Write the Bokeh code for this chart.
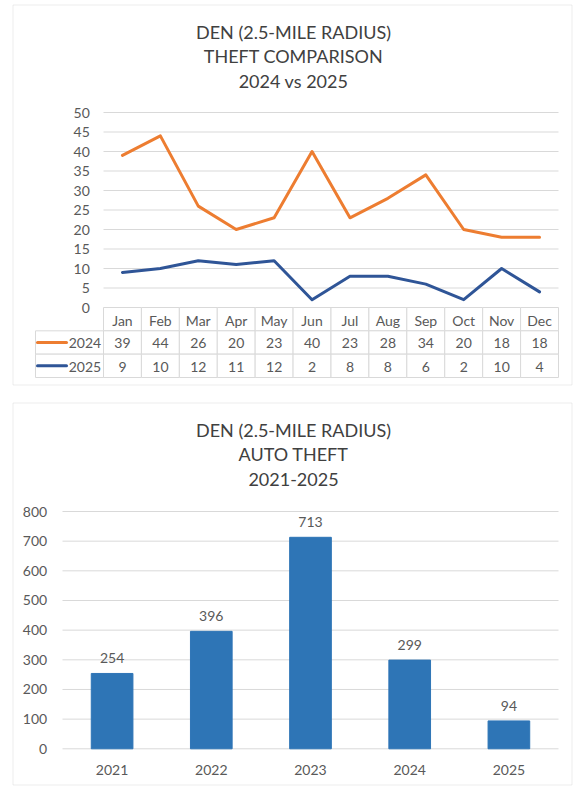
from bokeh.plotting import figure
from bokeh.models import Range1d, FixedTicker, BoxAnnotation
from bokeh.layouts import column
from bokeh.embed import file_html
from bokeh.resources import INLINE
from bokeh.core.properties import value

# ---------------- data ----------------
months = ["Jan", "Feb", "Mar", "Apr", "May", "Jun", "Jul", "Aug", "Sep", "Oct", "Nov", "Dec"]
theft_2024 = [39, 44, 26, 20, 23, 40, 23, 28, 34, 20, 18, 18]
theft_2025 = [9, 10, 12, 11, 12, 2, 8, 8, 6, 2, 10, 4]
series_names = ["2024", "2025"]
top_title = ["DEN (2.5-MILE RADIUS)", "THEFT COMPARISON", "2024 vs 2025"]
top_ticks = [0, 5, 10, 15, 20, 25, 30, 35, 40, 45, 50]

years = ["2021", "2022", "2023", "2024", "2025"]
auto_theft = [254, 396, 713, 299, 94]
bottom_title = ["DEN (2.5-MILE RADIUS)", "AUTO THEFT", "2021-2025"]
bottom_ticks = [0, 100, 200, 300, 400, 500, 600, 700, 800]

# ---------------- styles ----------------
FONT = "Lato"
ORANGE = "#ED7D31"
NAVY = "#2F5597"
BAR = "#2E75B6"
GRID = "#D9D9D9"
TXT = "#595959"
TITLE_C = "#404040"
BORDER = "#BFBFBF"
W = 574
H1, H2 = 390, 396
FL = 8  # frame left (canvas px)


def panel_border(p, top, bottom):
    p.add_layout(BoxAnnotation(left=12.5, right=571.5, top=top, bottom=bottom,
                               left_units="canvas", right_units="canvas",
                               top_units="canvas", bottom_units="canvas",
                               fill_color=None, line_color=BORDER, line_width=1,
                               level="overlay"))


def style_axis(ax):
    ax.major_tick_out = 0
    ax.major_tick_in = 0
    ax.minor_tick_out = 0
    ax.minor_tick_in = 0
    ax.axis_line_color = None
    ax.major_label_text_font = FONT
    ax.major_label_text_font_size = "14px"
    ax.major_label_text_color = TXT


# ================= TOP: line chart with data table =================
n = len(months)
PL, PR = 103.0, 558.0
UNIT = (PR - PL) / n
X0 = -0.5 - (PL - FL) / UNIT
X1 = n - 0.5 + (W - PR) / UNIT
Y0PX, PPU = 307.0, 3.9
ROW = 23.33 / PPU


def tx(c):
    return X0 + (c - FL) / UNIT


def ty(c):
    return (Y0PX - c) / PPU


p1 = figure(width=W, height=H1, x_range=Range1d(X0, X1),
            y_range=Range1d(-(H1 - Y0PX) / PPU, Y0PX / PPU),
            x_axis_location=None, toolbar_location=None, output_backend="svg",
            min_border_left=FL, min_border_right=0, min_border_top=0, min_border_bottom=0,
            background_fill_color="white", border_fill_color="white")
p1.outline_line_color = None
p1.xgrid.visible = False
p1.ygrid.visible = False

ya = p1.yaxis[0]
style_axis(ya)
ya.ticker = FixedTicker(ticks=top_ticks)
ya.major_label_standoff = -12
ya.fixed_location = tx(89.3 - 12)

gl = [t for t in top_ticks if t > 0]
p1.segment(x0=[-0.5] * len(gl), x1=[n - 0.5] * len(gl), y0=gl, y1=gl,
           line_color=GRID, line_width=1)

p1.text(x=[tx(293)] * 3, y=[ty(31.5), ty(55.5), ty(80.5)], text=top_title,
        text_font=value(FONT), text_font_size="18px", text_color=TITLE_C,
        text_align="center", text_baseline="middle")

idx = list(range(n))
p1.line(idx, theft_2024, line_color=ORANGE, line_width=3, line_join="round", line_cap="round")
p1.line(idx, theft_2025, line_color=NAVY, line_width=3, line_join="round", line_cap="round")

lefts = [i - 0.5 for i in idx]
rights = [i + 0.5 for i in idx]
for r in range(3):
    p1.quad(left=lefts, right=rights, top=[-r * ROW] * n, bottom=[-(r + 1) * ROW] * n,
            fill_color="white", line_color=GRID, line_width=1)
for r in (1, 2):
    p1.quad(left=[tx(35)], right=[-0.5], top=[-r * ROW], bottom=[-(r + 1) * ROW],
            fill_color="white", line_color=GRID, line_width=1)

dy = -1.0 / PPU
p1.text(x=idx, y=[-0.5 * ROW + dy] * n, text=months,
        text_font=value(FONT), text_font_size="14px", text_color=TXT,
        text_align="center", text_baseline="middle")
for r, vals in ((1, theft_2024), (2, theft_2025)):
    p1.text(x=idx, y=[-(r + 0.5) * ROW + dy] * n, text=[str(v) for v in vals],
            text_font=value(FONT), text_font_size="14px", text_color=TXT,
            text_align="center", text_baseline="middle")

leg_y = [-1.5 * ROW, -2.5 * ROW]
p1.segment(x0=[tx(37)] * 2, x1=[tx(66)] * 2, y0=leg_y, y1=leg_y,
           line_color=[ORANGE, NAVY], line_width=3, line_cap="round")
p1.text(x=[tx(100.7)] * 2, y=[v + dy for v in leg_y], text=series_names,
        text_font=value(FONT), text_font_size="14px", text_color=TXT,
        text_align="right", text_baseline="middle")
panel_border(p1, 4.5, 384.5)

# ================= BOTTOM: bar chart =================
OFF = H1                     # page y of bottom figure
nb = len(years)
BPL, BPR = 62.0, 558.0
BUNIT = (BPR - BPL) / nb
BX0 = 0.5 - (BPL - FL) / BUNIT
BX1 = nb + 0.5 + (W - BPR) / BUNIT
B0 = 748.3 - OFF
PPU_B = (748.3 - 511.0) / 800.0


def bx(c):
    return BX0 + (c - FL) / BUNIT


def by(c):
    return (B0 - c) / PPU_B


p2 = figure(width=W, height=H2, x_range=Range1d(BX0, BX1),
            y_range=Range1d(-(H2 - B0) / PPU_B, B0 / PPU_B),
            toolbar_location=None, output_backend="svg",
            min_border_left=FL, min_border_right=0, min_border_top=0, min_border_bottom=0,
            background_fill_color="white", border_fill_color="white")
p2.outline_line_color = None
p2.xgrid.visible = False
p2.ygrid.visible = False

bar_x = [i + 1 for i in range(nb)]
xa = p2.xaxis[0]
style_axis(xa)
xa.ticker = FixedTicker(ticks=bar_x)
xa.major_label_overrides = {x: y for x, y in zip(bar_x, years)}
xa.major_label_standoff = -20
xa.fixed_location = by(769.5 - OFF - 5 + 20)

yb = p2.yaxis[0]
style_axis(yb)
yb.ticker = FixedTicker(ticks=bottom_ticks)
yb.major_label_standoff = -20
yb.fixed_location = bx(46.7 - 20)

p2.segment(x0=[0.5] * len(bottom_ticks), x1=[nb + 0.5] * len(bottom_ticks),
           y0=bottom_ticks, y1=bottom_ticks, line_color=GRID, line_width=1)

p2.vbar(x=bar_x, top=auto_theft, width=0.42, fill_color=BAR, line_color=BAR)
p2.text(x=bar_x, y=auto_theft, text=[str(v) for v in auto_theft], y_offset=-15,
        text_font=value(FONT), text_font_size="14px", text_color=TXT,
        text_align="center", text_baseline="middle")

p2.text(x=[bx(293)] * 3,
        y=[by(429.5 - OFF), by(453.5 - OFF), by(478.5 - OFF)], text=bottom_title,
        text_font=value(FONT), text_font_size="18px", text_color=TITLE_C,
        text_align="center", text_baseline="middle")
panel_border(p2, 402.5 - OFF, 784.5 - OFF)

layout = column(p1, p2, spacing=0)
open("out.html", "w").write(file_html(layout, INLINE))
